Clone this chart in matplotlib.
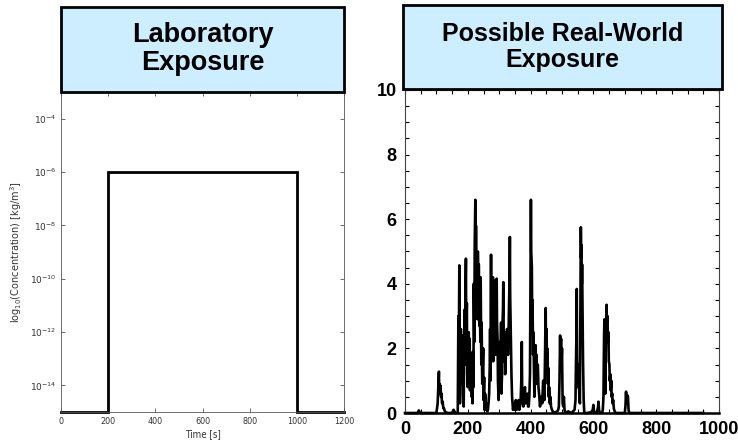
import numpy as np, matplotlib
matplotlib.use('Agg')
import matplotlib.pyplot as plt
from matplotlib.patches import Rectangle
from matplotlib.ticker import MultipleLocator, NullLocator, FixedLocator

# left panel: square laboratory pulse
lab_t = [0, 200, 200, 1000, 1000, 1200]
lab_c = [1e-15, 1e-15, 1e-6, 1e-6, 1e-15, 1e-15]
lab_xticks = [0, 200, 400, 600, 800, 1000, 1200]
lab_yticks = [1e-14, 1e-12, 1e-10, 1e-8, 1e-6, 1e-4]

# right panel: spiky real-world exposure, (time, conc)
rw_pts = [(0, 0), (40, 0), (44, 0.08), (48, 0), (100, 0), (104, 0.3), (106, 0.8), (108, 1.28),
          (109, 0.7), (110, 0.9), (112, 0.6), (113, 0.85), (115, 0.5), (116, 0.6), (118, 0.3),
          (120, 0.35), (122, 0.15), (124, 0.15), (127, 0.05), (130, 0.02), (136, 0), (150, 0),
          (155, 0.1), (160, 0), (168, 0),
          (170, 3.0), (171, 1.2), (173, 4.57), (174, 2.0), (175, 0.3), (176, 1.8), (178, 2.6),
          (179, 0.9), (181, 1.5), (182, 2.2), (184, 2.4), (185, 0.6), (187, 0.2), (188, 2.1),
          (190, 3.2), (191, 1.5), (193, 4.0), (194, 4.78), (195, 2.5), (197, 3.4), (198, 1.2),
          (200, 0.8), (201, 2.0), (203, 2.5), (204, 1.0), (206, 2.3), (207, 0.7), (209, 1.2),
          (210, 1.6), (212, 0.5), (213, 1.3), (215, 0.3), (216, 1.9), (218, 0.8), (219, 4.0),
          (221, 2.2), (222, 5.2), (224, 6.6), (225, 4.0), (226, 5.8), (228, 3.5), (229, 4.1),
          (231, 2.9), (232, 5.0), (234, 3.3), (235, 4.6), (237, 2.7), (238, 3.6), (240, 2.2),
          (241, 4.2), (243, 1.5), (244, 2.8), (246, 0.9), (247, 1.2), (249, 2.0), (250, 0.4),
          (252, 1.1), (253, 0.1), (255, 0.6), (256, 0.5), (258, 0.1), (260, 0.3), (262, 0.05),
          (264, 0.1), (266, 0.3), (268, 0.6), (270, 1.5), (271, 2.6), (272, 1.0), (274, 4.9),
          (275, 2.5), (277, 1.8), (278, 3.0), (280, 4.2), (281, 1.6), (283, 2.0), (284, 3.2),
          (286, 2.5), (287, 4.1), (289, 1.8), (290, 2.7), (292, 4.16), (293, 2.8), (295, 2.2),
          (296, 1.0), (298, 0.4), (299, 0.9), (301, 1.5), (302, 2.2), (304, 1.3), (306, 2.8),
          (307, 0.6), (309, 1.2), (310, 2.6), (312, 3.2), (313, 4.05), (315, 1.6), (316, 2.2),
          (318, 2.5), (319, 1.2), (321, 1.7), (322, 2.4), (324, 1.8), (325, 2.6), (327, 2.3),
          (328, 1.8), (330, 2.5), (331, 3.2), (333, 4.2), (334, 5.45), (335, 3.6), (336, 3.0),
          (338, 2.0), (339, 1.2), (341, 0.5), (343, 0.2), (344, 0.1),
          (347, 0.3), (350, 0.1), (353, 0.4), (356, 0.1), (359, 0.2), (362, 0.4), (364, 0.1),
          (366, 0.2), (368, 0.3), (369, 0.6), (371, 1.2), (372, 2.2), (373, 0.8), (375, 0.4),
          (377, 0.2), (378, 0.3), (380, 0.6), (382, 0.8), (384, 0.3), (386, 0.3), (388, 0.5),
          (390, 0.6), (392, 0.2), (394, 0.2), (396, 0.5), (398, 1.2), (399, 3.0), (401, 6.6),
          (402, 5.0), (404, 4.5), (405, 2.8), (406, 3.5), (408, 1.8), (409, 2.5), (411, 1.0),
          (412, 0.5), (414, 1.2), (416, 2.1), (417, 1.2), (419, 1.8), (420, 0.9), (421, 1.5),
          (423, 1.5), (425, 0.8), (427, 0.6), (429, 0.3), (430, 0.2), (433, 0.5), (435, 0.5),
          (437, 0.3), (440, 1.0), (442, 0.7), (444, 0.4), (446, 1.8), (448, 3.25), (449, 2.2),
          (451, 2.6), (452, 1.5), (453, 2.0), (455, 0.9), (456, 1.4), (458, 0.5), (459, 0.8),
          (461, 0.3), (463, 0.5), (465, 0.2), (468, 0.1), (472, 0.02), (475, 0), (485, 0.05),
          (488, 0.1), (490, 0.2), (492, 1.0), (494, 2.4), (495, 1.6), (497, 2.3), (498, 1.5),
          (500, 2.0), (501, 1.0), (502, 0.3), (504, 0.2), (506, 0.5), (508, 0.1), (510, 0),
          (520, 0.05), (530, 0), (540, 0.1), (543, 0.4), (544, 1.2), (546, 2.5), (547, 3.84),
          (548, 1.8), (550, 0.8), (552, 1.2), (553, 1.5), (555, 0.6), (557, 0.3), (558, 2.0),
          (560, 5.75), (561, 4.8), (562, 5.2), (563, 4.0), (564, 4.6), (566, 2.5), (567, 1.6),
          (568, 1.0), (569, 0.4), (571, 0), (580, 0), (590, 0.02), (595, 0.05), (598, 0.1),
          (600, 0.25), (602, 0.05), (605, 0), (612, 0.05), (615, 0.2), (616, 0.35), (618, 0.1),
          (620, 0), (628, 0.02), (630, 0.1), (632, 0.5), (634, 2.4), (635, 2.9), (636, 1.5),
          (638, 0.6), (640, 2.5), (642, 3.35), (643, 2.8), (645, 3.0), (646, 2.2), (648, 2.5),
          (649, 1.6), (651, 1.5), (652, 1.0), (654, 1.2), (655, 0.7), (657, 1.0), (658, 0.5),
          (660, 0.6), (661, 0.3), (663, 0.4), (665, 0.15), (666, 0.1), (670, 0), (700, 0),
          (702, 0.2), (704, 0.66), (705, 0.4), (707, 0.3), (708, 0.55), (710, 0.5), (712, 0.1),
          (714, 0), (950, 0)]
rw_t = [p[0] for p in rw_pts]
rw_c = [p[1] for p in rw_pts]
rw_xticks = [0, 200, 400, 600, 800, 1000]
rw_yticks = [0, 2, 4, 6, 8, 10]

W, H = 738, 446
fig = plt.figure(figsize=(W/100, H/100), dpi=100, facecolor='white')
def frac(x0, y0, x1, y1):
    return [x0/W, 1 - y1/H, (x1-x0)/W, (y1-y0)/H]

box_col = '#cdeeff'

# ── left: laboratory exposure ──
ax1 = fig.add_axes(frac(61, 92, 344, 412))
ax1.plot(lab_t, lab_c, color='black', lw=2, clip_on=False, solid_joinstyle='miter')
ax1.set_yscale('log')
ax1.set_xlim(0, 1200); ax1.set_ylim(1e-15, 1e-3)
ax1.xaxis.set_major_locator(FixedLocator(lab_xticks))
ax1.yaxis.set_major_locator(FixedLocator(lab_yticks))
ax1.yaxis.set_minor_locator(NullLocator())
ax1.tick_params(direction='in', top=True, right=True, length=3, width=0.6,
                labelsize=6.5, labelcolor='#333333', color='#555555')
for s in ax1.spines.values():
    s.set_linewidth(0.6); s.set_color('#555555')
for lab in ax1.get_xticklabels():
    lab.set_fontstretch('condensed')
ax1.set_xlabel('Time [s]', fontsize=7, color='#333333', fontstretch='condensed', labelpad=2)
ax1.set_ylabel('log$_{10}$(Concentration) [kg/m$^3$]', fontsize=7, color='#333333', labelpad=4)

# ── right: possible real-world exposure ──
ax2 = fig.add_axes(frac(405, 90, 719, 413))
ax2.plot(rw_t, rw_c, color='black', lw=1.9, clip_on=False)
ax2.set_xlim(0, 1000); ax2.set_ylim(0, 10)
ax2.set_xticks(rw_xticks); ax2.set_yticks(rw_yticks)
ax2.xaxis.set_minor_locator(MultipleLocator(50))
ax2.yaxis.set_minor_locator(MultipleLocator(0.5))
ax2.tick_params(which='both', direction='in', top=True, right=True, length=3, width=0.8)
ax2.tick_params(which='major', labelsize=13, pad=6)
for lab in ax2.get_xticklabels() + ax2.get_yticklabels():
    lab.set_family('Liberation Sans'); lab.set_fontstretch('condensed'); lab.set_fontweight('bold')
for s in ax2.spines.values():
    s.set_linewidth(0.8); s.set_color('#444444')
ax2.spines['bottom'].set_linewidth(1.8); ax2.spines['bottom'].set_color('black')

# ── title boxes ──
for (x0, y0, x1, y1), txt, fs in [((61, 7, 344, 92), 'Laboratory\nExposure', 19.5),
                                  ((403, 5, 722, 89), 'Possible Real-World\nExposure', 18)]:
    bx = frac(x0, y0, x1, y1)
    fig.patches.append(Rectangle((bx[0], bx[1]), bx[2], bx[3], transform=fig.transFigure,
                                 facecolor=box_col, edgecolor='black', lw=2, zorder=5))
    fig.text(bx[0] + bx[2]/2, bx[1] + bx[3]/2, txt, ha='center', va='center', fontsize=fs,
             fontweight='bold', family='Liberation Sans', fontstretch='normal',
             linespacing=1.1, zorder=6)

plt.savefig('out.png', dpi=100, facecolor='white')
plt.close()
